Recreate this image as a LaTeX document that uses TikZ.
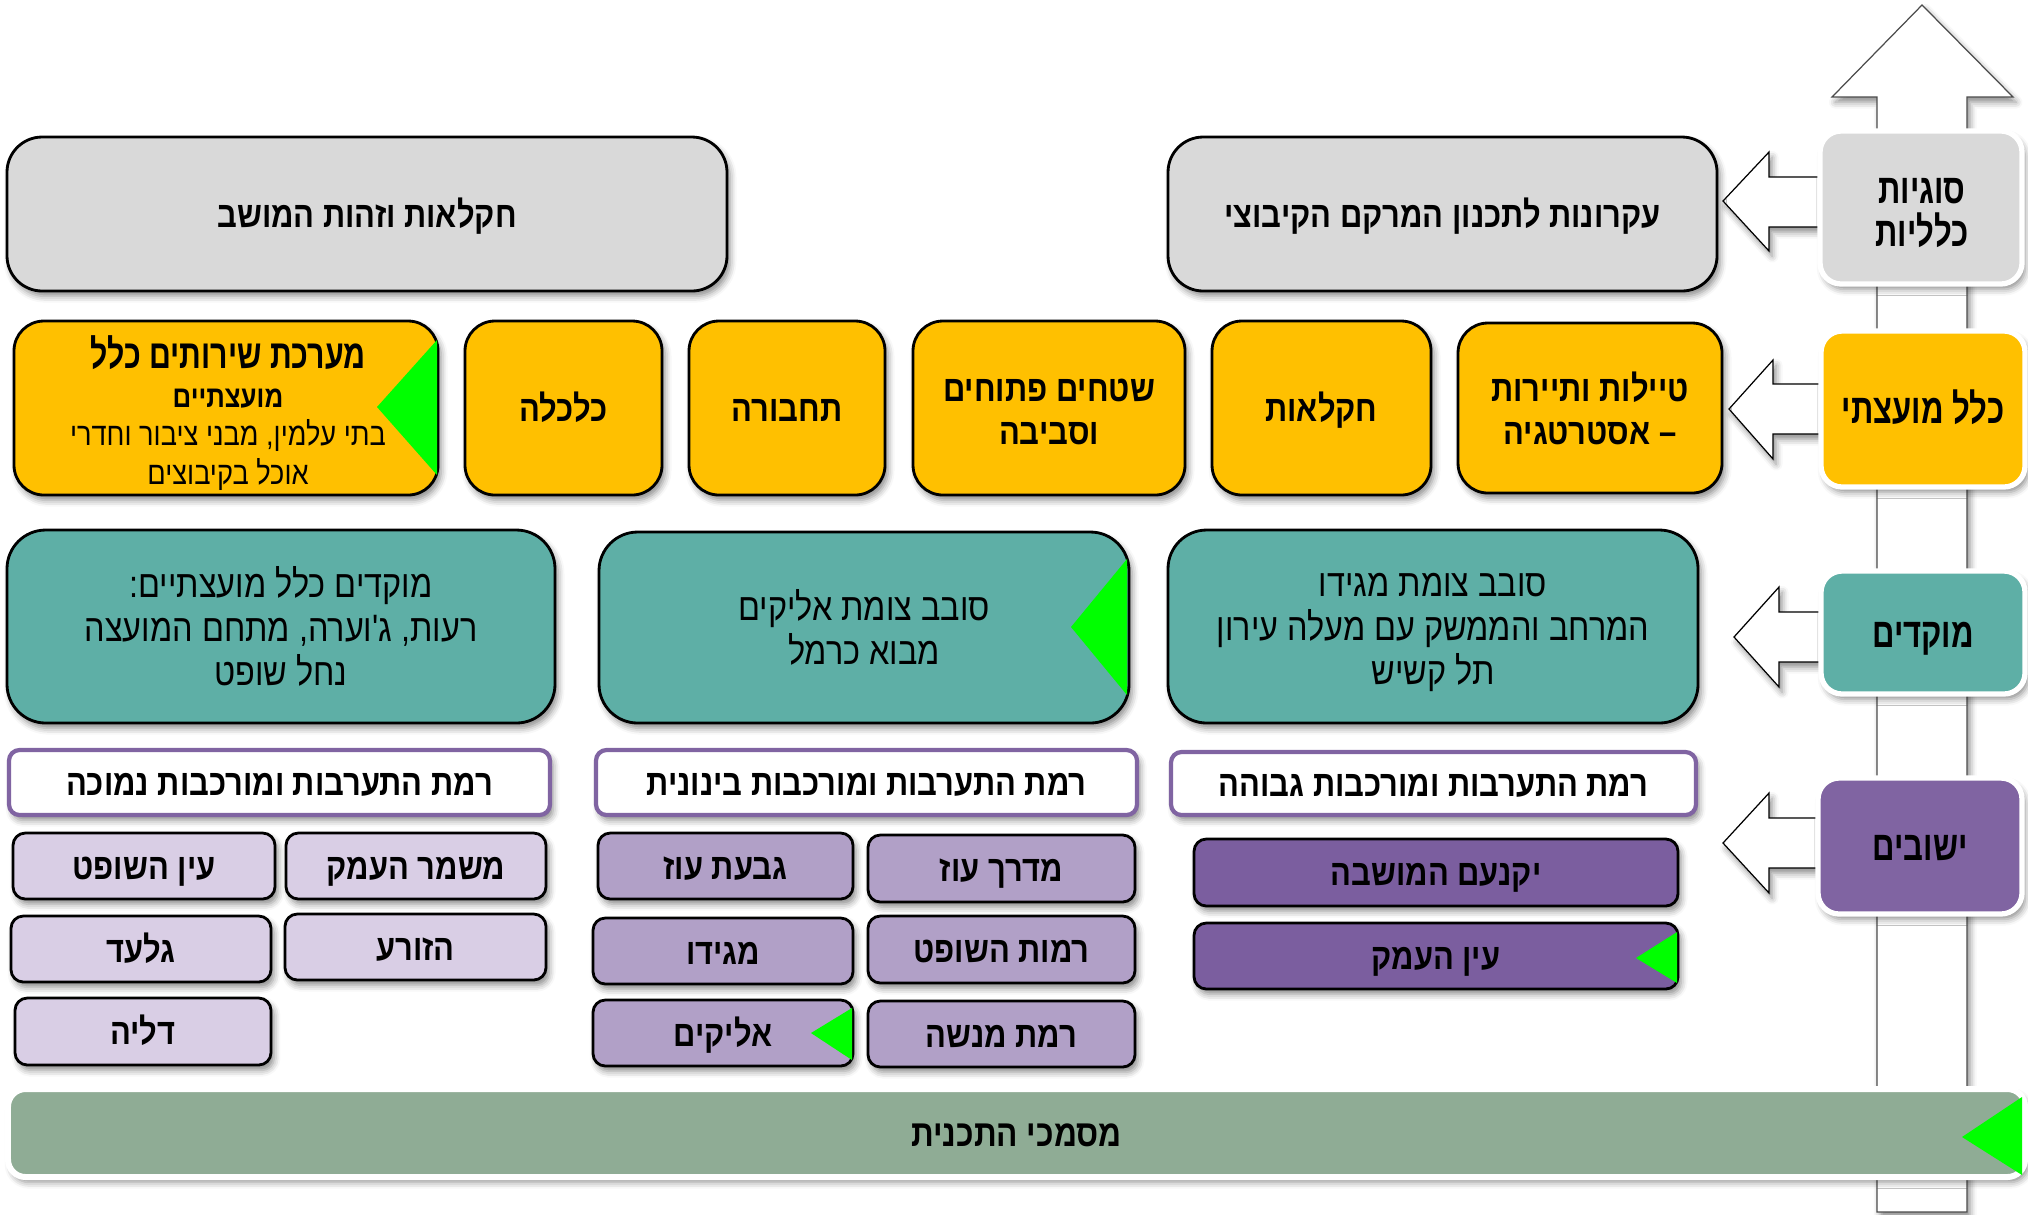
\documentclass[tikz,border=0pt]{standalone}
\usepackage{fontspec}
\newfontfamily\heb[Script=Hebrew,FakeStretch=0.85]{Liberation Sans}
\newfontfamily\hebn[Script=Hebrew,FakeStretch=0.75]{Liberation Sans}
\TeXXeTstate=1
\usetikzlibrary{shadows.blur,calc}
\newcommand{\hebl}[1]{\beginR#1\endR}
\definecolor{cgray}{HTML}{D9D9D9}
\definecolor{cyel}{HTML}{FFC000}
\definecolor{cteal}{HTML}{5EAFA6}
\definecolor{cpur}{HTML}{8064A2}
\definecolor{cpurd}{HTML}{7B5E9F}
\definecolor{cpurm}{HTML}{B1A0C7}
\definecolor{cpurl}{HTML}{D9CEE5}
\definecolor{cbar}{HTML}{8FAC95}
\definecolor{cgreen}{HTML}{00FF00}
\begin{document}
\begin{tikzpicture}[x=0.01cm,y=-0.01cm,
  sz/.style 2 args={minimum width=#1*0.01cm, minimum height=#2*0.01cm},
  shd/.style={blur shadow={shadow xshift=0.9pt, shadow yshift=-1.5pt, shadow blur radius=1.8pt, shadow opacity=45}},
  base/.style={inner sep=0pt, outer sep=0pt, text=black, align=center},
  pp/.style={text height=9.2pt, text depth=1.8pt},
  lp/.style={text height=10.3pt, text depth=2pt},
  bfont/.style={font=\heb\fontsize{10.35}{12.3}\selectfont\bfseries},
  rfont/.style={font=\heb\fontsize{10.85}{12.5}\selectfont},
  lfont/.style={font=\hebn\fontsize{11.8}{12.1}\selectfont\bfseries},
  lbl/.style={base, shd, lfont, draw=white, line width=1.5pt, rounded corners=6pt},
  graybox/.style={base, shd, bfont, fill=cgray, draw=black, line width=0.8pt, rounded corners=10pt},
  yelbox/.style={base, shd, bfont, fill=cyel, draw=black, line width=0.8pt, rounded corners=8.5pt},
  tealbox/.style={base, shd, rfont, fill=cteal, draw=black, line width=0.8pt, rounded corners=11pt},
  levbox/.style={base, shd, bfont, pp, fill=white, draw=cpur, line width=1.2pt, rounded corners=3pt},
  setbox/.style={base, shd, bfont, pp, draw=black, line width=0.8pt, rounded corners=3.5pt},
  blockarrow/.style={fill=white, draw=black, line width=0.35pt, shd},
  tri/.style={fill=cgreen}
]
\useasboundingbox (0,0) rectangle (2028,1214);
% big vertical arrow
\draw[blockarrow, draw=black!70] (1877,1212) -- (1877,97) -- (1832,97) -- (1922,5) -- (2013,97) -- (1967,97) -- (1967,1212) -- cycle;
% small left arrows
\draw[blockarrow] (1830,177) -- (1769,177) -- (1769,152) -- (1723,201) -- (1769,251) -- (1769,227) -- (1830,227) -- cycle;
\draw[blockarrow] (1830,384) -- (1773,384) -- (1773,360) -- (1729,409) -- (1773,459) -- (1773,434) -- (1830,434) -- cycle;
\draw[blockarrow] (1830,612) -- (1779,612) -- (1779,587) -- (1734,637) -- (1779,687) -- (1779,662) -- (1830,662) -- cycle;
\draw[blockarrow] (1830,818) -- (1769,818) -- (1769,793) -- (1723,843) -- (1769,893) -- (1769,868) -- (1830,868) -- cycle;
% level labels
\node[lbl, fill=cgray, sz={202}{153}] (L1) at (1921,207.5) {};
\node[base, lfont] (L1t) at (1922,213) {\hebl{סוגיות}\\\hebl{כלליות}};
\node[lbl, lp, fill=cyel, sz={204}{156}] (L2) at (1923,409) {\hebl{כלל מועצתי}};
\node[lbl, lp, fill=cteal, sz={204}{123}] (L3) at (1923,632.5) {\hebl{מוקדים}};
\node[lbl, lp, fill=cpur, sz={204}{136}] (L4) at (1920,846) {\hebl{ישובים}};
% gray row
\node[graybox, pp, sz={720}{154}] (G1) at (367,214) {\hebl{חקלאות וזהות המושב}};
\node[graybox, pp, sz={549}{154}] (G2) at (1442.5,214) {\hebl{עקרונות לתכנון המרקם הקיבוצי}};
% yellow row
\node[yelbox, sz={424}{174}] (Y1) at (226,408) {};
\fill[tri] (377,407) -- (437,340) -- (437,475) -- cycle;
\node[base, font=\heb\fontsize{9.1}{11}\selectfont] (Y1t) at (228,413) {{\hebn\fontsize{11.5}{11}\selectfont\bfseries\hebl{מערכת שירותים כלל}}\\
  {\heb\fontsize{8.65}{11}\selectfont\bfseries\hebl{מועצתיים}}\\
  \hebl{בתי עלמין, מבני ציבור וחדרי}\\
  \hebl{אוכל בקיבוצים}};
\node[yelbox, pp, sz={197}{174}] (Y2) at (563.5,408) {\hebl{כלכלה}};
\node[yelbox, pp, sz={196}{174}] (Y3) at (787,408) {\hebl{תחבורה}};
\node[yelbox, sz={272}{174}] (Y4) at (1049,408) {};
\node[base, bfont] (Y4t) at (1049,412) {\hebl{שטחים פתוחים}\\\hebl{וסביבה}};
\node[yelbox, pp, sz={219}{174}] (Y5) at (1321.5,408) {\hebl{חקלאות}};
\node[yelbox, sz={264}{170}] (Y6) at (1590,408) {\hebl{טיילות ותיירות}\\\hebl{– אסטרטגיה}};
% teal row
\node[tealbox, sz={548}{193}] (T1) at (281,626.5) {\hebl{מוקדים כלל מועצתיים:}\\\hebl{רעות, ג'וערה, מתחם המועצה}\\\hebl{נחל שופט}};
\node[tealbox, sz={530}{191}] (T2) at (864,627.5) {\hebl{סובב צומת אליקים}\\\hebl{מבוא כרמל}};
\fill[tri] (1071,627) -- (1127,559) -- (1127,695) -- cycle;
\node[tealbox, sz={530}{193}] (T3) at (1433,626.5) {};
\node[base, rfont] (T3t) at (1433,632.5) {\hebl{סובב צומת מגידו}\\\hebl{המרחב והממשק עם מעלה עירון}\\\hebl{תל קשיש}};
% level boxes
\node[levbox, sz={541}{65}] (W1) at (279.5,782.5) {\hebl{רמת התערבות ומורכבות נמוכה}};
\node[levbox, sz={541}{65}] (W2) at (866.5,782.5) {\hebl{רמת התערבות ומורכבות בינונית}};
\node[levbox, sz={525}{63}] (W3) at (1433.5,783.5) {\hebl{רמת התערבות ומורכבות גבוהה}};
% settlements low
\node[setbox, fill=cpurl, sz={262}{66}] (S1) at (144,866) {\hebl{עין השופט}};
\node[setbox, fill=cpurl, sz={260}{66}] (S2) at (416,866) {\hebl{משמר העמק}};
\node[setbox, fill=cpurl, sz={260}{66}] (S3) at (141,949) {\hebl{גלעד}};
\node[setbox, fill=cpurl, sz={261}{66}] (S4) at (415.5,947) {\hebl{הזורע}};
\node[setbox, fill=cpurl, sz={256}{67}] (S5) at (143,1031.5) {\hebl{דליה}};
% settlements medium
\node[setbox, fill=cpurm, sz={255}{66}] (M1) at (725.5,866) {\hebl{גבעת עוז}};
\node[setbox, fill=cpurm, sz={267}{67}] (M2) at (1001.5,868.5) {\hebl{מדרך עוז}};
\node[setbox, fill=cpurm, sz={260}{66}] (M3) at (723,951) {\hebl{מגידו}};
\node[setbox, fill=cpurm, sz={267}{67}] (M4) at (1001.5,949.5) {\hebl{רמות השופט}};
\node[setbox, fill=cpurm, sz={260}{66}] (M5) at (723,1033) {\hebl{אליקים}};
\fill[tri] (811,1033) -- (852,1008) -- (852,1060) -- cycle;
\node[setbox, fill=cpurm, sz={267}{66}] (M6) at (1001.5,1034) {\hebl{רמת מנשה}};
% settlements high
\node[setbox, fill=cpurd, sz={484}{67}] (D1) at (1436,872.5) {\hebl{יקנעם המושבה}};
\node[setbox, fill=cpurd, sz={484}{66}] (D2) at (1436,956) {\hebl{עין העמק}};
\fill[tri] (1636,958) -- (1677,932) -- (1677,983) -- cycle;
% bottom bar
\node[base, shd, font=\heb\fontsize{10.6}{12}\selectfont\bfseries, text height=9.4pt, text depth=1.85pt, fill=cbar, draw=white, line width=1.7pt, rounded corners=5pt, sz={2017}{88}] (B) at (1016.5,1133) {\hebl{מסמכי התכנית}};
\fill[tri] (1962,1137) -- (2022,1097) -- (2022,1175) -- cycle;
\end{tikzpicture}
\end{document}
